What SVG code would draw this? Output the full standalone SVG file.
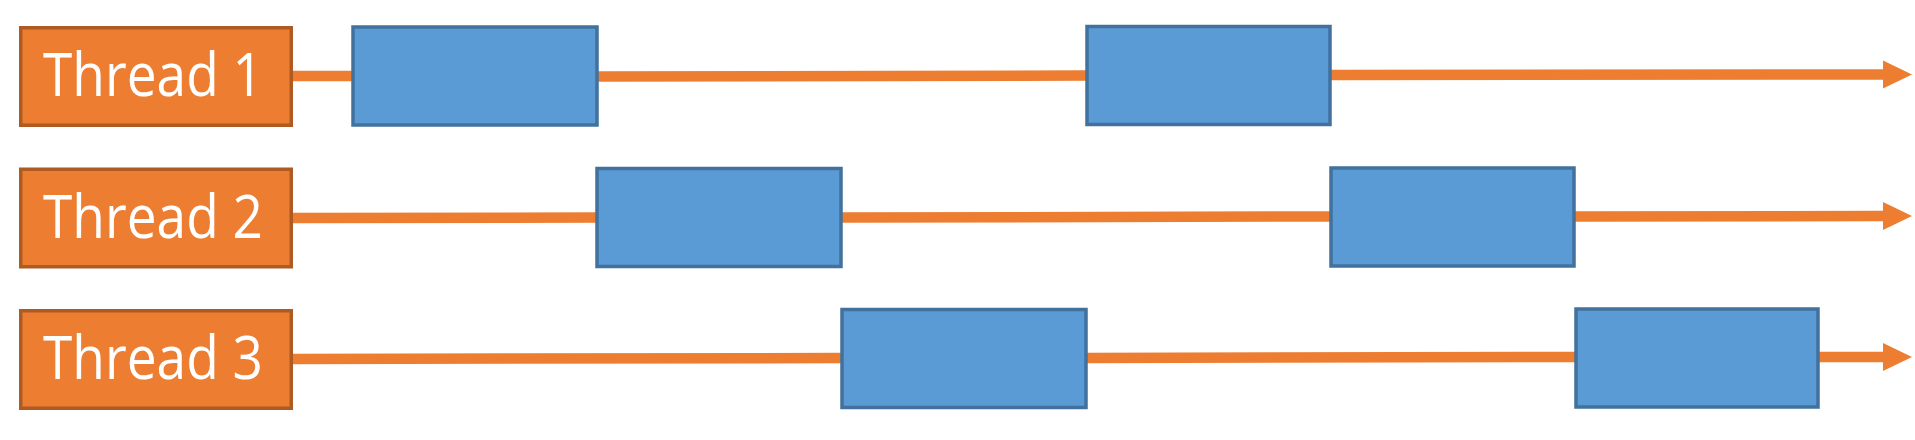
<svg xmlns="http://www.w3.org/2000/svg" width="1915" height="440" viewBox="0 0 1915 440">
  <style>
    .thread { fill: #ED7D31; stroke: #AE5A21; stroke-width: 3.5; }
    .label { fill: #FFFFFF; font-family: "Open Sans", "Liberation Sans", Arial, sans-serif; font-size: 60px; }
    .task { fill: #5B9BD5; stroke: #41719C; stroke-width: 3.5; }
    .conn { stroke: #ED7D31; stroke-width: 10.5; fill: none; }
  </style>
  <defs>
    <marker id="arrow" markerUnits="userSpaceOnUse" markerWidth="30" markerHeight="30" refX="0" refY="14" orient="auto">
      <path d="M0,0 L29,14 L0,28 z" fill="#ED7D31"/>
    </marker>
  </defs>
  <rect width="1915" height="440" fill="#FFFFFF"/>

  <g id="connectors">
    <line class="conn" x1="293" y1="76" x2="353" y2="76"/>
    <line class="conn" x1="597" y1="76.5" x2="1086" y2="75.5"/>
    <line class="conn" x1="1330" y1="75" x2="1883" y2="74.5" marker-end="url(#arrow)"/>

    <line class="conn" x1="293" y1="218" x2="597" y2="217.5"/>
    <line class="conn" x1="841" y1="217.5" x2="1331" y2="216.5"/>
    <line class="conn" x1="1574" y1="216.5" x2="1883" y2="216" marker-end="url(#arrow)"/>

    <line class="conn" x1="293" y1="359" x2="842" y2="358"/>
    <line class="conn" x1="1086" y1="358" x2="1576" y2="357"/>
    <line class="conn" x1="1818" y1="357" x2="1883" y2="357" marker-end="url(#arrow)"/>
  </g>

  <g id="thread1">
    <rect class="thread" x="20.75" y="27.75" width="270.5" height="97.5"/>
    <text class="label" x="153" y="96" text-anchor="middle" textLength="220" lengthAdjust="spacingAndGlyphs">Thread 1</text>
  </g>
  <g id="thread2">
    <rect class="thread" x="20.75" y="169.25" width="270.5" height="97.5"/>
    <text class="label" x="153" y="237.5" text-anchor="middle" textLength="220" lengthAdjust="spacingAndGlyphs">Thread 2</text>
  </g>
  <g id="thread3">
    <rect class="thread" x="20.75" y="310.75" width="270.5" height="97.5"/>
    <text class="label" x="153" y="379" text-anchor="middle" textLength="220" lengthAdjust="spacingAndGlyphs">Thread 3</text>
  </g>

  <g id="task1a"><rect class="task" x="353" y="27" width="244" height="98"/></g>
  <g id="task1b"><rect class="task" x="1087" y="26.5" width="243" height="98"/></g>
  <g id="task2a"><rect class="task" x="597" y="168.5" width="244" height="98"/></g>
  <g id="task2b"><rect class="task" x="1331" y="168" width="243" height="98"/></g>
  <g id="task3a"><rect class="task" x="842" y="309.5" width="244" height="98"/></g>
  <g id="task3b"><rect class="task" x="1576" y="309" width="242" height="98"/></g>
</svg>
